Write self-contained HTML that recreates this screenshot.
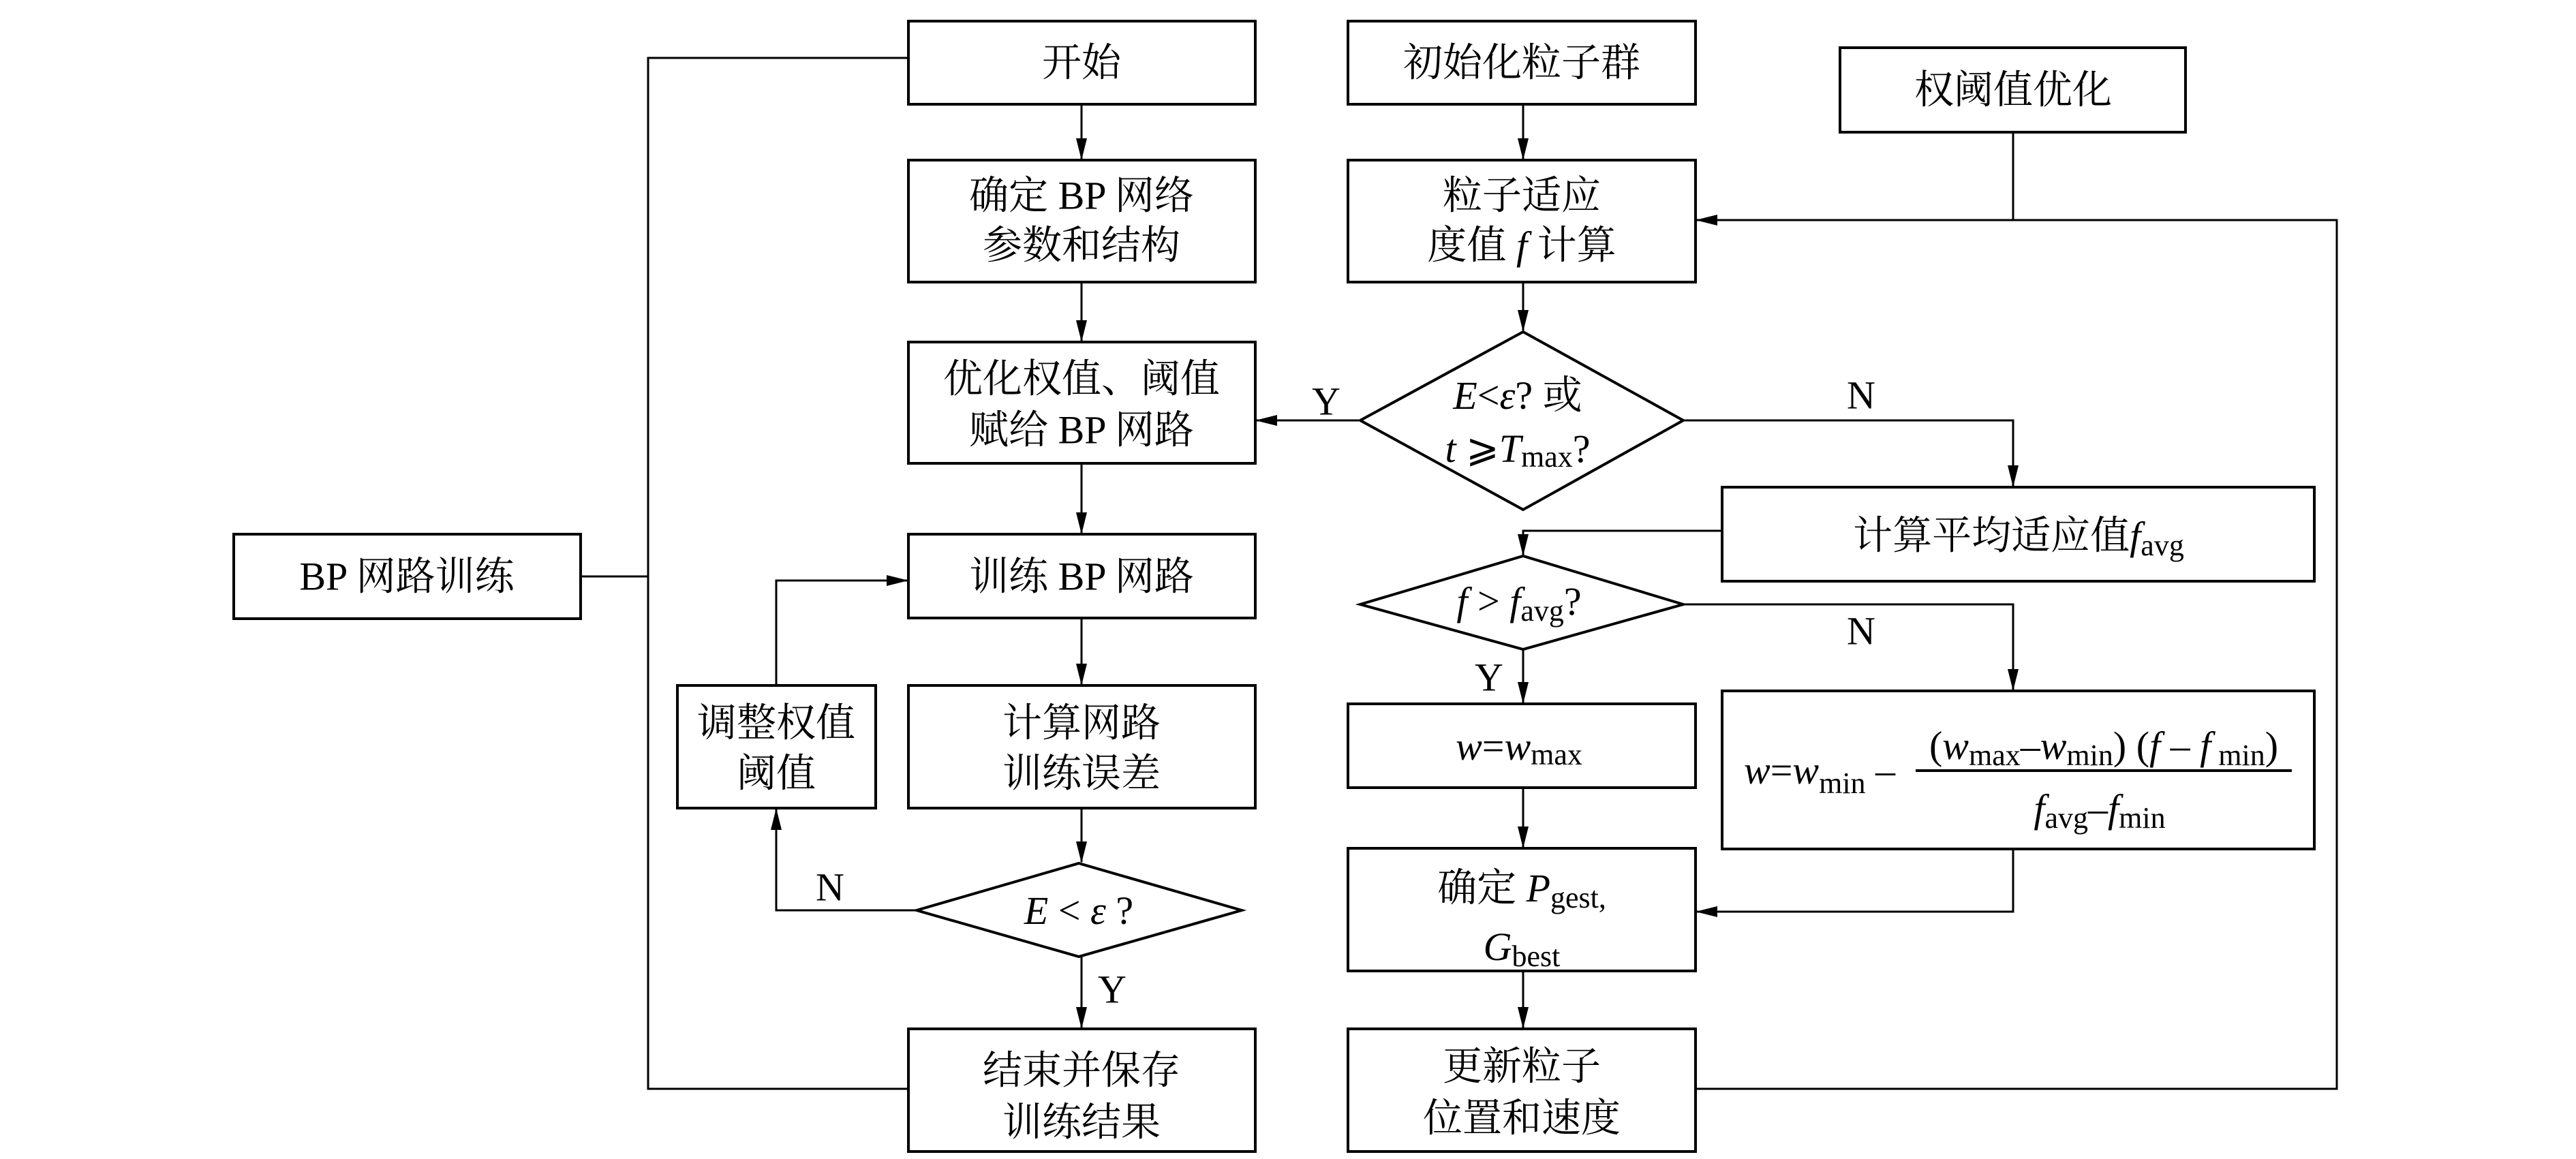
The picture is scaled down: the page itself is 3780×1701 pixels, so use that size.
<!DOCTYPE html>
<html><head><meta charset="utf-8"><style>
html,body{margin:0;padding:0;background:#fff;}
svg{display:block;}
text{font-family:"Liberation Serif","Noto Serif CJK SC",serif;font-size:58px;fill:#000;}
.i{font-style:italic;}
</style></head><body>
<svg width="3780" height="1701" viewBox="0 0 3780 1701" xmlns="http://www.w3.org/2000/svg">
<defs>
<marker id="a" markerWidth="32" markerHeight="16" refX="30" refY="8" orient="auto" markerUnits="userSpaceOnUse">
<path d="M0,0 L32,8 L0,16 Z" fill="#000"/>
</marker>
</defs>
<g fill="none" stroke="#000" stroke-width="4">
<rect x="1333" y="31" width="509" height="122"/>
<rect x="1333" y="235" width="509" height="179"/>
<rect x="1333" y="502" width="509" height="178"/>
<rect x="1333" y="784" width="509" height="123"/>
<rect x="1333" y="1006" width="509" height="180"/>
<rect x="1333" y="1510" width="509" height="180"/>
<rect x="994" y="1006" width="291" height="180"/>
<rect x="343" y="784" width="509" height="124"/>
<polygon points="1345,1336 1583,1267 1822,1336 1583,1404"/>
<rect x="1978" y="31" width="510" height="122"/>
<rect x="2700" y="70" width="507" height="124"/>
<rect x="1978" y="235" width="510" height="179"/>
<polygon points="1996,617 2235,487 2470,617 2235,748"/>
<rect x="2527" y="715" width="869" height="138"/>
<polygon points="1996,887 2235,816 2470,887 2235,953"/>
<rect x="1978" y="1033" width="510" height="123"/>
<rect x="2527" y="1014" width="869" height="232"/>
<rect x="1978" y="1245" width="510" height="180"/>
<rect x="1978" y="1510" width="510" height="180"/>
</g>
<g fill="none" stroke="#000" stroke-width="3">
<polyline points="1333,85 951,85 951,1598 1333,1598"/>
<line x1="852" y1="846" x2="951" y2="846"/>
<line x1="1587" y1="153" x2="1587" y2="233" marker-end="url(#a)"/>
<line x1="1587" y1="414" x2="1587" y2="500" marker-end="url(#a)"/>
<line x1="1587" y1="680" x2="1587" y2="782" marker-end="url(#a)"/>
<line x1="1587" y1="907" x2="1587" y2="1004" marker-end="url(#a)"/>
<line x1="1587" y1="1186" x2="1587" y2="1265" marker-end="url(#a)"/>
<line x1="1587" y1="1404" x2="1587" y2="1508" marker-end="url(#a)"/>
<polyline points="1345,1336 1139,1336 1139,1188" marker-end="url(#a)"/>
<polyline points="1139,1006 1139,852 1331,852" marker-end="url(#a)"/>
<line x1="2235" y1="153" x2="2235" y2="233" marker-end="url(#a)"/>
<line x1="2235" y1="414" x2="2235" y2="485" marker-end="url(#a)"/>
<line x1="1996" y1="617" x2="1844" y2="617" marker-end="url(#a)"/>
<polyline points="2470,617 2954,617 2954,713" marker-end="url(#a)"/>
<polyline points="2527,779 2235,779 2235,814" marker-end="url(#a)"/>
<polyline points="2470,887 2954,887 2954,1012" marker-end="url(#a)"/>
<line x1="2235" y1="953" x2="2235" y2="1031" marker-end="url(#a)"/>
<line x1="2235" y1="1156" x2="2235" y2="1243" marker-end="url(#a)"/>
<polyline points="2954,1246 2954,1338 2490,1338" marker-end="url(#a)"/>
<line x1="2235" y1="1425" x2="2235" y2="1508" marker-end="url(#a)"/>
<polyline points="2488,1598 3429,1598 3429,323 2490,323" marker-end="url(#a)"/>
<line x1="2954" y1="194" x2="2954" y2="323"/>
<line x1="2811" y1="1131" x2="3363" y2="1131" stroke-width="4"/>
</g>
<g text-anchor="middle" dominant-baseline="central">
<text x="1587" y="92">开始</text>
<text x="1587" y="287">确定 BP 网络</text>
<text x="1587" y="360">参数和结构</text>
<text x="1587" y="556">优化权值、阈值</text>
<text x="1587" y="631">赋给 BP 网路</text>
<text x="1587" y="846">训练 BP 网路</text>
<text x="1587" y="1061">计算网路</text>
<text x="1587" y="1135">训练误差</text>
<text x="1139" y="1061">调整权值</text>
<text x="1139" y="1135">阈值</text>
<text x="1583" y="1336"><tspan class="i">E</tspan> &lt; <tspan class="i">ε</tspan> ?</text>
<text x="1587" y="1571">结束并保存</text>
<text x="1587" y="1647">训练结果</text>
<text x="597" y="846">BP 网路训练</text>
<text x="1218" y="1302">N</text>
<text x="1632" y="1452">Y</text>
<text x="1946" y="589">Y</text>
<text x="2731" y="580">N</text>
<text x="2731" y="926">N</text>
<text x="2185" y="994">Y</text>
<text x="2233" y="92">初始化粒子群</text>
<text x="2954" y="132">权阈值优化</text>
<text x="2233" y="287">粒子适应</text>
<text x="2233" y="360">度值 <tspan class="i">f</tspan> 计算</text>
<text x="2227" y="580"><tspan class="i">E</tspan>&lt;<tspan class="i">ε</tspan>? 或</text>
<text x="2227" y="658"><tspan class="i">t</tspan> ⩾<tspan class="i">T</tspan><tspan font-size="44" dy="12">max</tspan><tspan dy="-12">?</tspan></text>
<text x="2962" y="786">计算平均适应值<tspan class="i">f</tspan><tspan font-size="44" dy="14">avg</tspan></text>
<text x="2229" y="882"><tspan class="i">f</tspan> &gt; <tspan class="i">f</tspan><tspan font-size="44" dy="14">avg</tspan><tspan dy="-14">?</tspan></text>
<text x="2229" y="1095"><tspan class="i">w</tspan>=<tspan class="i">w</tspan><tspan font-size="44" dy="12">max</tspan></text>
<text x="2233" y="1303">确定 <tspan class="i">P</tspan><tspan font-size="44" dy="14">gest,</tspan></text>
<text x="2233" y="1389"><tspan class="i">G</tspan><tspan font-size="44" dy="14">best</tspan></text>
<text x="2233" y="1565">更新粒子</text>
<text x="2233" y="1641">位置和速度</text>
<text x="3087" y="1094">(<tspan class="i">w</tspan><tspan font-size="44" dy="14">max</tspan><tspan dy="-14">–</tspan><tspan class="i">w</tspan><tspan font-size="44" dy="14">min</tspan><tspan dy="-14">) (</tspan><tspan class="i">f</tspan> – <tspan class="i">f</tspan><tspan font-size="44" dy="14"> min</tspan><tspan dy="-14">)</tspan></text>
<text x="3081" y="1186"><tspan class="i">f</tspan><tspan font-size="44" dy="14">avg</tspan><tspan dy="-14">–</tspan><tspan class="i">f</tspan><tspan font-size="44" dy="14">min</tspan></text>
</g>
<text x="2559" y="1150"><tspan class="i">w</tspan>=<tspan class="i">w</tspan><tspan font-size="44" dy="14">min</tspan><tspan dy="-14"> –</tspan></text>
</svg>
</body></html>
